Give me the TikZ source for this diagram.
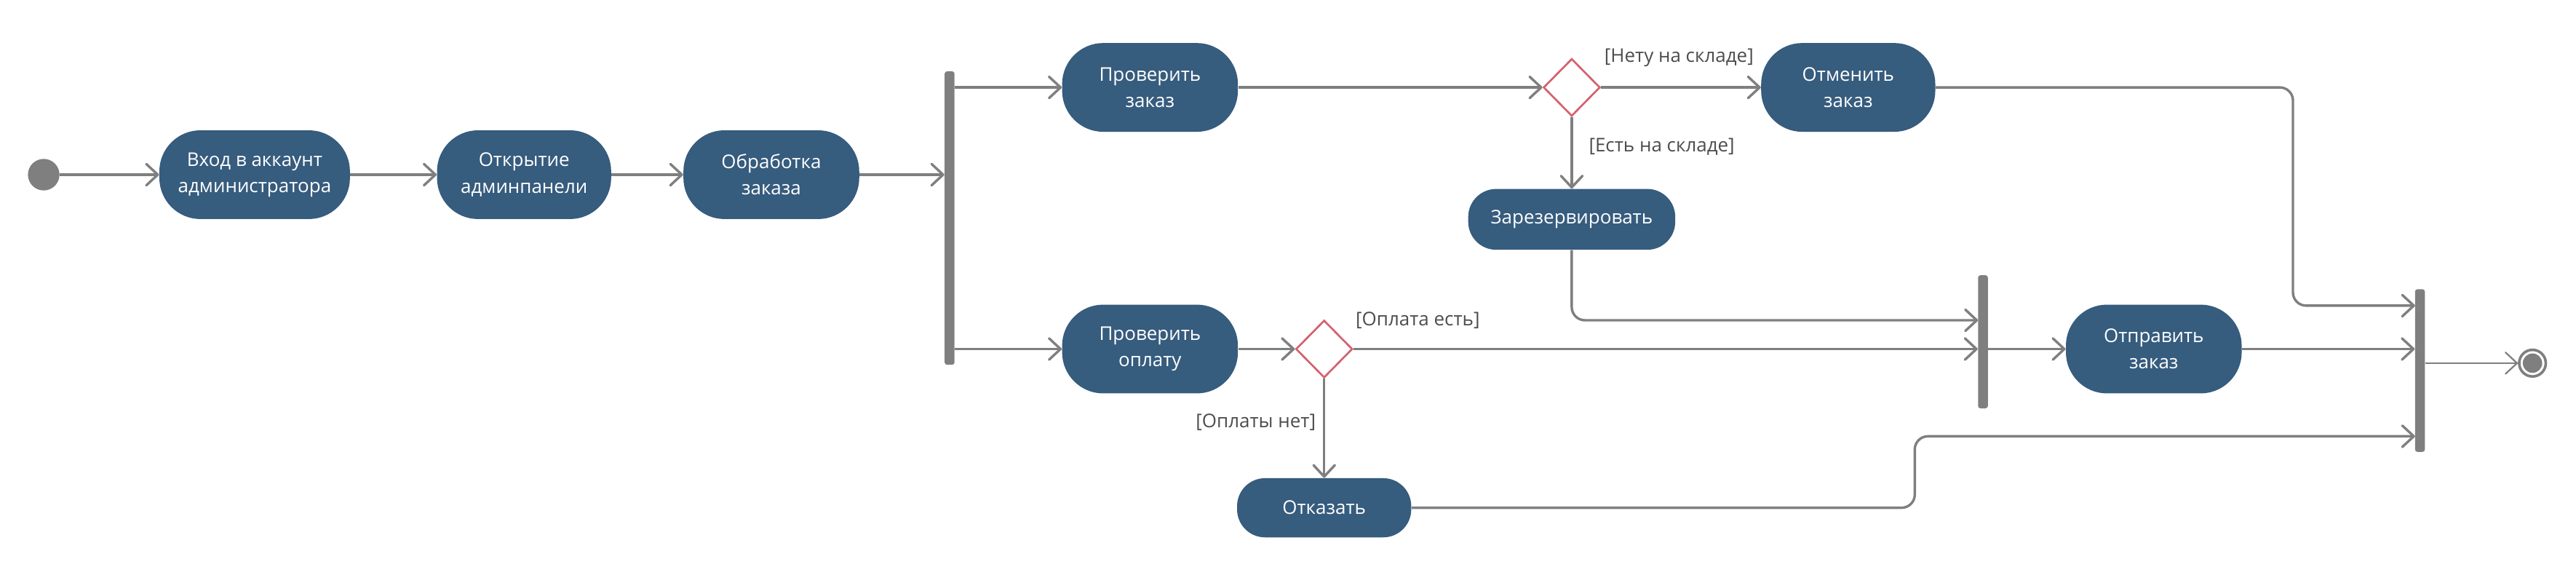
\documentclass[tikz,border=0pt]{standalone}
\usepackage{fontspec}
\setmainfont{Open Sans}
\usetikzlibrary{arrows.meta,shapes.geometric}
\definecolor{actblue}{HTML}{365C7E}
\definecolor{linegray}{HTML}{7F7F7F}
\definecolor{guardgray}{HTML}{4D4D4D}
\definecolor{decred}{HTML}{D4636F}
\begin{document}
\begin{tikzpicture}[x=1pt,y=1pt,
  activity/.style={rectangle,rounded corners=25pt,fill=actblue,text=white,
    minimum width=#1,minimum height=54pt,inner sep=0pt,align=center,
    font=\fontsize{11.5}{16}\selectfont},
  activity/.default=107pt,
  shortactivity/.style={activity=#1,minimum height=36pt,rounded corners=17pt},
  decision/.style={diamond,draw=decred,line width=1.2pt,fill=white,
    minimum width=34.5pt,minimum height=35pt,inner sep=0pt},
  syncbar/.style={rectangle,fill=linegray,minimum width=6pt,inner sep=0pt,rounded corners=1.5pt},
  startnode/.style={circle,fill=linegray,minimum size=19.2pt,inner sep=0pt},
  endnode/.style={circle,draw=linegray,line width=1.6pt,minimum size=16.2pt,inner sep=0pt},
  flow/.style={draw=linegray,line width=1.5pt,-{Straight Barb[length=7pt,width=13pt,round]}},
  guard/.style={text=guardgray,inner sep=0pt,font=\fontsize{11.5}{14}\selectfont}]
  \useasboundingbox (0,0) rectangle (1568,345);
  \node[startnode] (start) at (26.6,238.7) {};
  \node[activity=116pt] (login) at (155,238.7) {Вход в аккаунт\\администратора};
  \node[activity=106pt] (panel) at (319,238.7) {Открытие\\админпанели};
  \node[activity] (handle) at (469.5,238.7) {Обработка\\заказа};
  \node[syncbar,minimum height=178.6pt] (fork) at (578,212.3) {};
  \node[activity] (checkorder) at (700,291.8) {Проверить\\заказ};
  \node[decision] (stock) at (956.7,291.8) {};
  \node[activity=106pt] (cancel) at (1125,291.8) {Отменить\\заказ};
  \node[shortactivity=126pt,minimum height=37pt] (reserve) at (956.7,211.5) {Зарезервировать};
  \node[activity] (checkpay) at (700,132.6) {Проверить\\оплату};
  \node[decision] (pay) at (806,132.6) {};
  \node[shortactivity=106pt] (reject) at (806,36) {Отказать};
  \node[syncbar,minimum height=81pt] (joinA) at (1207,137) {};
  \node[activity] (send) at (1311,132.6) {Отправить\\заказ};
  \node[syncbar,minimum height=99pt] (joinB) at (1473,119.5) {};
  \node[endnode] (stop) at (1541.5,124) {};
  \fill[linegray] (stop) circle (5.9);

  \node[guard] (nostock) at (1022,310) {[Нету на складе]};
  \node[guard] (instock) at (1011.5,255.5) {[Есть на складе]};
  \node[guard] (paid) at (863,150) {[Оплата есть]};
  \node[guard] (unpaid) at (764.4,88) {[Оплаты нет]};

  \coordinate (reservein) at (1204,150.1);
  \coordinate (cancelin) at (1470,159);
  \coordinate (rejectin) at (1470,79.5);

  \draw[flow] (start) -- (login);
  \draw[flow] (login) -- (panel);
  \draw[flow] (panel) -- (handle);
  \draw[flow] (handle) -- (handle -| fork.west);
  \draw[flow] (fork.east |- checkorder) -- (checkorder);
  \draw[flow] (fork.east |- checkpay) -- (checkpay);
  \draw[flow] (checkorder) -- (stock);
  \draw[flow] (stock) -- (cancel);
  \draw[flow] (stock) -- (reserve);
  \draw[flow,rounded corners=8pt] (reserve) |- (reservein);
  \draw[flow] (checkpay) -- (pay);
  \draw[flow] (pay) -- (pay -| joinA.west);
  \draw[flow] (pay) -- (reject);
  \draw[flow] (joinA.east |- send) -- (send);
  \draw[flow] (send) -- (send -| joinB.west);
  \draw[flow,rounded corners=8pt] (cancel) -- (1395.7,291.8) -- (1395.7,159) -- (cancelin);
  \draw[flow,rounded corners=8pt] (reject) -- (1165.5,36) -- (1165.5,79.5) -- (rejectin);
  \draw[flow,line width=1pt] (joinB.east |- stop) -- (stop);
\end{tikzpicture}
\end{document}
